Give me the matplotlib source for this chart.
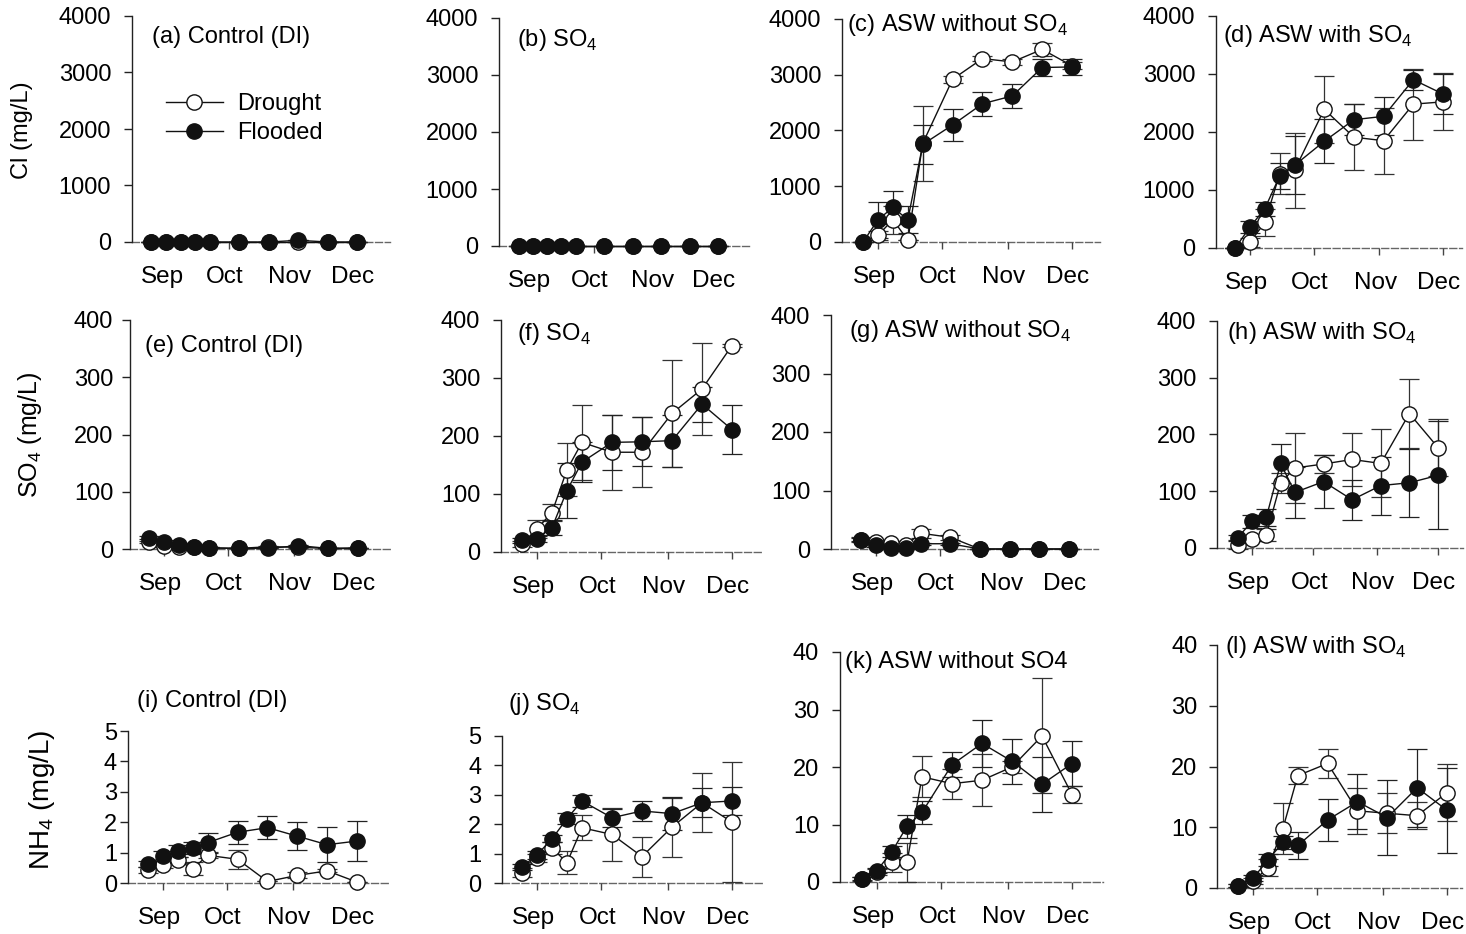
import matplotlib
matplotlib.use('Agg')
import matplotlib.pyplot as plt
from matplotlib.lines import Line2D
from matplotlib.transforms import ScaledTranslation

plt.rcParams['font.family'] = ['Liberation Sans', 'DejaVu Sans']
plt.rcParams['mathtext.fontset'] = 'custom'
plt.rcParams['mathtext.rm'] = 'Liberation Sans'

# sampling days, relative to 1 Sep
days = [-7, 0, 7, 14, 21, 35, 49, 63, 77, 91]
month_ticks = [0, 30, 61, 91]
month_labels = ['Sep', 'Oct', 'Nov', 'Dec']

# Cl (mg/L)
cl_ctrl_d = [0, 0, 0, 0, 0, 0, 0, 0, 0, 0]
cl_ctrl_d_err = [0, 0, 0, 0, 0, 0, 0, 0, 0, 0]
cl_ctrl_f = [0, 0, 0, 0, 0, 0, 0, 30, 0, 0]
cl_ctrl_f_err = [0, 0, 0, 0, 0, 0, 0, 0, 0, 0]
cl_so4_d = [0, 0, 0, 0, 0, 0, 0, 0, 0, 0]
cl_so4_d_err = [0, 0, 0, 0, 0, 0, 0, 0, 0, 0]
cl_so4_f = [0, 0, 0, 0, 0, 0, 0, 0, 0, 0]
cl_so4_f_err = [0, 0, 0, 0, 0, 0, 0, 0, 0, 0]
cl_asw_d = [0, 120, 400, 30, 1770, 2920, 3290, 3230, 3455, 3160]
cl_asw_d_err = [0, 80, 250, 0, 670, 60, 40, 60, 110, 60]
cl_asw_f = [0, 400, 620, 400, 1750, 2100, 2480, 2620, 3130, 3140]
cl_asw_f_err = [0, 320, 290, 240, 350, 290, 215, 215, 150, 150]
cl_aswso4_d = [0, 100, 440, 1280, 1340, 2390, 1910, 1850, 2480, 2520]
cl_aswso4_d_err = [0, 80, 230, 350, 650, 580, 570, 570, 610, 490]
cl_aswso4_f = [0, 360, 680, 1240, 1425, 1840, 2212, 2270, 2902, 2655]
cl_aswso4_f_err = [0, 100, 120, 220, 500, 380, 270, 330, 170, 350]

# SO4 (mg/L)
so4_ctrl_d = [12, 5, 4, 3, 2, 1, 4, 3, 1, 1]
so4_ctrl_d_err = [2, 2, 1, 1, 1, 0, 1, 1, 0, 0]
so4_ctrl_f = [20, 13, 7, 4, 2, 1, 1, 6, 1, 2]
so4_ctrl_f_err = [3, 2, 1, 1, 1, 0, 0, 1, 0, 0]
so4_so4_d = [14, 40, 68, 142, 189, 172, 172, 239, 281, 356]
so4_so4_d_err = [5, 15, 15, 46, 64, 65, 60, 92, 80, 3]
so4_so4_f = [20, 23, 42, 106, 155, 189, 190, 192, 255, 211]
so4_so4_f_err = [4, 5, 13, 47, 35, 47, 42, 45, 30, 42]
so4_asw_d = [16, 12, 10, 6, 27, 20, 0, 0, 0, 0]
so4_asw_d_err = [4, 3, 3, 2, 8, 4, 0, 0, 0, 0]
so4_asw_f = [16, 6, 2, 1, 9, 9, 0, 0, 0, 0]
so4_asw_f_err = [3, 2, 1, 1, 2, 2, 0, 0, 0, 0]
so4_aswso4_d = [6, 16, 23, 115, 141, 148, 156, 149, 237, 177]
so4_aswso4_d_err = [8, 4, 10, 18, 62, 15, 47, 60, 60, 50]
so4_aswso4_f = [18, 47, 54, 149, 98, 117, 85, 110, 115, 128]
so4_aswso4_f_err = [5, 12, 15, 35, 45, 47, 35, 51, 60, 95]

# NH4 (mg/L)
nh4_ctrl_d = [0.42, 0.58, 0.75, 0.47, 0.91, 0.78, 0.05, 0.25, 0.40, 0.03]
nh4_ctrl_d_err = [0.1, 0.1, 0.1, 0.22, 0.1, 0.32, 0.0, 0.1, 0.05, 0.0]
nh4_ctrl_f = [0.62, 0.88, 1.04, 1.15, 1.33, 1.67, 1.82, 1.54, 1.26, 1.38]
nh4_ctrl_f_err = [0.1, 0.18, 0.2, 0.2, 0.33, 0.38, 0.37, 0.47, 0.57, 0.65]
nh4_so4_d = [0.35, 0.85, 1.19, 0.69, 1.88, 1.65, 0.90, 1.90, 2.73, 2.07]
nh4_so4_d_err = [0.15, 0.15, 0.2, 0.4, 0.43, 0.9, 0.68, 1.0, 1.0, 2.05]
nh4_so4_f = [0.54, 0.96, 1.50, 2.19, 2.79, 2.22, 2.45, 2.36, 2.73, 2.79]
nh4_so4_f_err = [0.1, 0.13, 0.12, 0.2, 0.2, 0.3, 0.35, 0.55, 0.5, 0.48]
nh4_asw_d = [0.5, 1.7, 3.4, 3.4, 18.3, 17.1, 17.7, 20.0, 25.4, 15.2]
nh4_asw_d_err = [0.3, 0.5, 1.7, 3.4, 3.6, 2.6, 4.5, 1.0, 10.0, 1.5]
nh4_asw_f = [0.6, 2.0, 5.3, 9.7, 12.1, 20.4, 24.1, 21.0, 17.0, 20.6]
nh4_asw_f_err = [0.3, 0.5, 1.0, 2.0, 2.0, 2.2, 4.1, 3.9, 4.8, 3.9]
nh4_aswso4_d = [0.4, 1.1, 3.3, 9.75, 18.5, 20.5, 12.7, 12.3, 11.9, 15.7]
nh4_aswso4_d_err = [0.2, 0.5, 1.4, 4.2, 1.4, 2.4, 3.8, 3.3, 2.2, 4.7]
nh4_aswso4_f = [0.4, 1.6, 4.6, 7.5, 7.0, 11.2, 14.2, 11.6, 16.5, 12.8]
nh4_aswso4_f_err = [0.2, 0.5, 1.0, 1.0, 2.2, 3.5, 4.5, 6.1, 6.4, 7.0]

SUB4 = r'SO$_\mathregular{4}$'
titles = ['(a) Control (DI)', '(b) ' + SUB4, '(c) ASW without ' + SUB4, '(d) ASW with ' + SUB4,
          '(e) Control (DI)', '(f) ' + SUB4, '(g) ASW without ' + SUB4, '(h) ASW with ' + SUB4,
          '(i) Control (DI)', '(j) ' + SUB4, '(k) ASW without SO4', '(l) ASW with ' + SUB4]

series = [
    (cl_ctrl_d, cl_ctrl_d_err, cl_ctrl_f, cl_ctrl_f_err, 4000, 1000),
    (cl_so4_d, cl_so4_d_err, cl_so4_f, cl_so4_f_err, 4000, 1000),
    (cl_asw_d, cl_asw_d_err, cl_asw_f, cl_asw_f_err, 4000, 1000),
    (cl_aswso4_d, cl_aswso4_d_err, cl_aswso4_f, cl_aswso4_f_err, 4000, 1000),
    (so4_ctrl_d, so4_ctrl_d_err, so4_ctrl_f, so4_ctrl_f_err, 400, 100),
    (so4_so4_d, so4_so4_d_err, so4_so4_f, so4_so4_f_err, 400, 100),
    (so4_asw_d, so4_asw_d_err, so4_asw_f, so4_asw_f_err, 400, 100),
    (so4_aswso4_d, so4_aswso4_d_err, so4_aswso4_f, so4_aswso4_f_err, 400, 100),
    (nh4_ctrl_d, nh4_ctrl_d_err, nh4_ctrl_f, nh4_ctrl_f_err, 5, 1),
    (nh4_so4_d, nh4_so4_d_err, nh4_so4_f, nh4_so4_f_err, 5, 1),
    (nh4_asw_d, nh4_asw_d_err, nh4_asw_f, nh4_asw_f_err, 40, 10),
    (nh4_aswso4_d, nh4_aswso4_d_err, nh4_aswso4_f, nh4_aswso4_f_err, 40, 10),
]

# pixel layout: spine x, Sep tick x, Dec tick x, axis end x, y of 0, y of top, title x, title baseline, ytick pad
layout = [
    (132, 166, 357, 390, 242, 16, 152, 43, 9),
    (499, 533, 718, 750, 246, 18, 517, 46, 9),
    (842, 878, 1072, 1100, 242, 19, 847, 31, 9),
    (1216, 1250, 1443, 1462, 248, 16, 1223, 42, 9),
    (130, 164, 358, 390, 549, 320, 145, 352, 6),
    (501, 537, 732, 763, 552, 320, 517, 340, 9),
    (831, 876, 1069, 1098, 549, 315, 849, 337, 9),
    (1217, 1252, 1438, 1463, 548, 321, 1227, 339, 9),
    (128, 163, 357, 388, 883, 731, 137, 707, 2),
    (502, 537, 732, 763, 883, 736, 508, 710, 9),
    (840, 877, 1072, 1103, 882, 652, 845, 668, 9),
    (1217, 1253, 1447, 1462, 888, 645, 1225, 653, 8),
]

W, H = 1466, 934
fig = plt.figure(figsize=(W / 100, H / 100), dpi=100)
fs = 17
ink = '#111111'
shift_left = ScaledTranslation(-4 / 100, 0, fig.dpi_scale_trans)

for i, (s, lay) in enumerate(zip(series, layout)):
    d, de, f, fe, ymax, ystep = s
    spine, sep, dec, end, y0, ytop, tx, ty, ypad = lay
    ppd = (dec - sep) / 91.0
    ax = fig.add_axes([spine / W, 1 - y0 / H, (end - spine) / W, (y0 - ytop) / H])
    ax.set_xlim(-(sep - spine) / ppd, (end - sep) / ppd)
    ax.set_ylim(0, ymax)

    ax.errorbar(days, d, yerr=de, fmt='none', ecolor='#333333', elinewidth=0.9,
                capsize=7.5, capthick=0.9, clip_on=False, zorder=2)
    ax.errorbar(days, f, yerr=fe, fmt='none', ecolor='#222222', elinewidth=0.9,
                capsize=7.5, capthick=0.9, clip_on=False, zorder=2)
    ax.plot(days, d, '-o', color=ink, lw=1, ms=11, mfc='white', mec=ink, mew=1,
            clip_on=False, zorder=3)
    ax.plot(days, f, '-o', color=ink, lw=1, ms=11, mfc=ink, mec=ink, mew=1,
            clip_on=False, zorder=4)

    for side in ['top', 'right']:
        ax.spines[side].set_visible(False)
    ax.spines['left'].set_color('#222222')
    ax.spines['left'].set_linewidth(1)
    ax.spines['bottom'].set_color('#666666')
    ax.spines['bottom'].set_linewidth(1)
    ax.spines['bottom'].set_linestyle((0, (5, 2)))
    ax.spines['bottom'].set_zorder(1)

    ax.set_xticks(month_ticks)
    ax.set_xticklabels(month_labels)
    ax.set_yticks(range(0, ymax + 1, ystep))
    ax.tick_params(axis='x', direction='out', length=5, width=1, color='#444444',
                   labelsize=fs + 0.5, pad=12)
    ax.tick_params(axis='y', direction='out', length=6, width=1, color='#222222',
                   labelsize=fs, pad=ypad)
    for lbl in ax.get_xticklabels():
        lbl.set_transform(lbl.get_transform() + shift_left)
    ax.patch.set_alpha(0)

    fig.text(tx / W, 1 - ty / H, titles[i], fontsize=fs, va='baseline', ha='left')

    if i == 0:
        h1 = Line2D([], [], color=ink, lw=1, marker='o', ms=11, mfc='white', mec=ink)
        h2 = Line2D([], [], color=ink, lw=1, marker='o', ms=11, mfc=ink, mec=ink)
        ax.legend([h1, h2], ['Drought', 'Flooded'], loc='upper left',
                  bbox_to_anchor=((166 - spine) / (end - spine), (y0 - 93) / (y0 - ytop)),
                  frameon=False, fontsize=fs, handlelength=2.4, handletextpad=0.6,
                  labelspacing=0.3, borderpad=0, borderaxespad=0)

fig.text(22 / W, 1 - 130 / H, 'Cl (mg/L)', rotation=90, fontsize=fs, ha='center', va='center')
fig.text(30 / W, 1 - 435 / H, 'SO$_\\mathregular{4}$ (mg/L)', rotation=90, fontsize=fs + 1,
         ha='center', va='center')
fig.text(42 / W, 1 - 800 / H, 'NH$_\\mathregular{4}$ (mg/L)', rotation=90, fontsize=fs + 3,
         ha='center', va='center')

fig.savefig('out.png', dpi=100)
